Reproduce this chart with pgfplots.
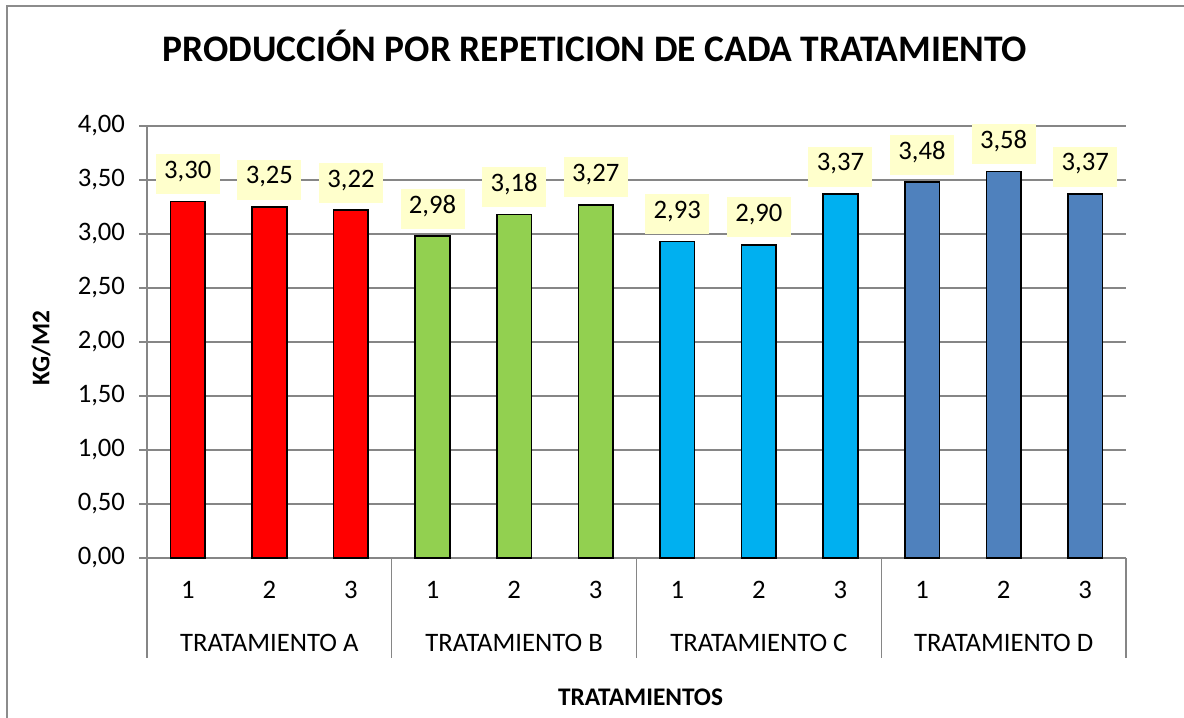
\documentclass[border=0pt]{standalone}
\usepackage{pgfplots}
\pgfplotsset{compat=1.18}
\usepackage{fontspec}
\setmainfont{Carlito}
\definecolor{gridgray}{RGB}{134,134,134}
\definecolor{framegray}{RGB}{140,140,140}
\definecolor{cA}{RGB}{255,0,0}
\definecolor{cB}{RGB}{146,208,80}
\definecolor{cC}{RGB}{0,176,240}
\definecolor{cD}{RGB}{79,129,189}
\definecolor{lblbg}{RGB}{255,255,204}
\begin{document}
\begin{tikzpicture}
\useasboundingbox (0pt,0pt) rectangle (888pt,537.75pt);
\fill[white] (0pt,0pt) rectangle (888pt,537.75pt);
\draw[framegray, line width=1.5pt] (5.25pt,-5pt) -- (5.25pt,533.25pt) -- (895pt,533.25pt);
\node[anchor=base, font=\fontsize{28.1}{33}\selectfont\bfseries] at (446.25pt,491.25pt) {PRODUCCIÓN POR REPETICION DE CADA TRATAMIENTO};
\node[rotate=90, font=\fontsize{19}{22}\selectfont\bfseries] at (30.75pt,276.75pt) {KG/M2};
\node[anchor=base, font=\fontsize{19}{22}\selectfont\bfseries] at (480.4pt,9pt) {TRATAMIENTOS};
\begin{axis}[
  at={(110.25pt,119.25pt)}, anchor=south west,
  scale only axis, width=734.25pt, height=324pt,
  xmin=0.5, xmax=12.5, ymin=0, ymax=4,
  clip=false,
  axis x line*=bottom, axis y line*=left,
  axis line style={gridgray, line width=0.9pt, -},
  ymajorgrids, major grid style={gridgray, line width=0.9pt},
  ytick={0,0.5,1,1.5,2,2.5,3,3.5,4},
  tick align=outside, major tick length=6pt,
  ytick style={gridgray, line width=0.9pt},
  xtick style={draw=none},
  ticklabel style={font=\fontsize{20}{24}\selectfont},
  /pgf/number format/assume math mode=true,
  yticklabel style={/pgf/number format/.cd, fixed, fixed zerofill, precision=2, use comma, /tikz/.cd, xshift=-7pt},
  xtick={1,2,3,4,5,6,7,8,9,10,11,12},
  xticklabels={1,2,3,1,2,3,1,2,3,1,2,3},
  xticklabel style={anchor=base, yshift=-24.75pt},
  extra x ticks={2,5,8,11},
  extra x tick labels={TRATAMIENTO A,TRATAMIENTO B,TRATAMIENTO C,TRATAMIENTO D},
  extra x tick style={xticklabel style={yshift=-39pt}},
  ybar, bar width=26pt,
  nodes near coords={\pgfmathprintnumber[fixed,fixed zerofill,precision=2,use comma]{\pgfplotspointmeta}},
  nodes near coords style={fill=lblbg, text=black, font=\fontsize{20}{24}\selectfont, inner sep=0pt, minimum width=48pt, minimum height=30pt, text height=0.66em, text depth=0pt, anchor=south, yshift=5pt},
]
\addplot[fill=cA, draw=black, line width=1.2pt, bar shift=0pt] coordinates {(1,3.30) (2,3.25) (3,3.22)};
\addplot[fill=cB, draw=black, line width=1.2pt, bar shift=0pt] coordinates {(4,2.98) (5,3.18) (6,3.27)};
\addplot[fill=cC, draw=black, line width=1.2pt, bar shift=0pt] coordinates {(7,2.93) (8,2.90) (9,3.37)};
\addplot[fill=cD, draw=black, line width=1.2pt, bar shift=0pt] coordinates {(10,3.48) (11,3.58) (12,3.37)};
\draw[gridgray, line width=0.9pt] (axis cs:0.5,0) -- ++(0pt,-75pt);
\draw[gridgray, line width=0.9pt] (axis cs:3.5,0) -- ++(0pt,-75pt);
\draw[gridgray, line width=0.9pt] (axis cs:6.5,0) -- ++(0pt,-75pt);
\draw[gridgray, line width=0.9pt] (axis cs:9.5,0) -- ++(0pt,-75pt);
\draw[gridgray, line width=0.9pt] (axis cs:12.5,0) -- ++(0pt,-75pt);
\end{axis}
\end{tikzpicture}
\end{document}
